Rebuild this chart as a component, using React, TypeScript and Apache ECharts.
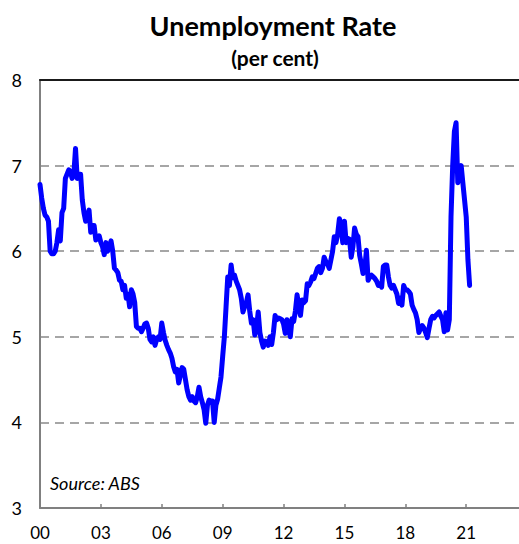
import React, { useEffect, useRef } from "react";
import * as echarts from "echarts";

// Monthly unemployment rate (per cent), Jan 2000 .. Mar 2021
const startYear = 2000;
const y2000 = [6.78, 6.62, 6.5, 6.42, 6.4, 6.35, 6.0, 5.97, 5.97, 6.0, 6.1, 6.25];
const y2001 = [6.12, 6.45, 6.5, 6.85, 6.9, 6.95, 6.93, 6.85, 6.9, 7.2, 6.85, 6.9];
const y2002 = [6.9, 6.6, 6.45, 6.35, 6.4, 6.48, 6.22, 6.3, 6.3, 6.13, 6.15, 6.18];
const y2003 = [6.1, 6.05, 5.96, 6.1, 6.0, 6.05, 6.12, 6.0, 5.8, 5.78, 5.75, 5.66];
const y2004 = [5.65, 5.55, 5.6, 5.45, 5.5, 5.35, 5.55, 5.5, 5.4, 5.12, 5.1, 5.1];
const y2005 = [5.06, 5.1, 5.15, 5.16, 5.1, 4.97, 4.94, 5.0, 4.9, 4.97, 5.0, 4.97];
const y2006 = [5.16, 5.05, 4.96, 4.9, 4.85, 4.81, 4.75, 4.65, 4.59, 4.62, 4.46, 4.55];
const y2007 = [4.64, 4.62, 4.5, 4.38, 4.3, 4.26, 4.3, 4.25, 4.23, 4.3, 4.41, 4.3];
const y2008 = [4.23, 4.15, 3.99, 4.2, 4.26, 4.25, 4.25, 4.0, 4.2, 4.27, 4.4, 4.53];
const y2009 = [4.77, 5.0, 5.35, 5.7, 5.6, 5.84, 5.69, 5.72, 5.65, 5.6, 5.55, 5.45];
const y2010 = [5.29, 5.35, 5.4, 5.49, 5.3, 5.16, 5.2, 5.02, 5.1, 5.29, 5.05, 4.95];
const y2011 = [4.88, 4.95, 4.94, 4.9, 5.0, 4.91, 5.05, 5.25, 5.2, 5.22, 5.21, 5.2];
const y2012 = [5.15, 5.04, 5.2, 5.1, 5.0, 5.21, 5.18, 5.3, 5.49, 5.35, 5.25, 5.43];
const y2013 = [5.4, 5.42, 5.62, 5.6, 5.64, 5.7, 5.68, 5.74, 5.8, 5.82, 5.75, 5.8];
const y2014 = [5.93, 5.88, 5.85, 5.8, 5.9, 6.0, 6.17, 6.1, 6.2, 6.38, 6.3, 6.1];
const y2015 = [6.35, 6.1, 6.15, 6.14, 5.93, 6.05, 6.27, 6.2, 6.17, 5.95, 5.85, 5.74];
const y2016 = [5.8, 6.01, 5.66, 5.7, 5.72, 5.7, 5.68, 5.65, 5.6, 5.62, 5.58, 5.82];
const y2017 = [5.84, 5.84, 5.7, 5.6, 5.57, 5.6, 5.55, 5.5, 5.39, 5.45, 5.37, 5.6];
const y2018 = [5.55, 5.55, 5.53, 5.5, 5.37, 5.32, 5.28, 5.2, 5.05, 5.1, 5.13, 5.1];
const y2019 = [5.05, 4.99, 5.1, 5.2, 5.24, 5.22, 5.25, 5.27, 5.29, 5.24, 5.2, 5.06];
const y2020 = [5.28, 5.08, 5.2, 6.4, 7.0, 7.4, 7.5, 6.8, 6.9, 7.0, 6.8, 6.6];
const y2021 = [6.4, 5.9, 5.6];

const yTicks = { min: 3, max: 8, interval: 1 };
const xTicks = { min: 2000, max: 2023.6, interval: 3 };

const rates: number[] = [
  ...y2000, ...y2001, ...y2002, ...y2003, ...y2004, ...y2005, ...y2006,
  ...y2007, ...y2008, ...y2009, ...y2010, ...y2011, ...y2012, ...y2013,
  ...y2014, ...y2015, ...y2016, ...y2017, ...y2018, ...y2019, ...y2020, ...y2021,
];

const FONT = "Lato, 'Noto Sans', sans-serif";

export default function App() {
  const ref = useRef<HTMLDivElement>(null);
  useEffect(() => {
    if (!ref.current) return;
    const chart = echarts.init(ref.current, null, { renderer: "svg" });
    const data = rates.map((v, i) => [startYear + i / 12, v]);
    chart.setOption({
      animation: false,
      backgroundColor: "#ffffff",
      grid: { left: 40, top: 80, right: 0, bottom: 36, containLabel: false },
      xAxis: [
        {
          type: "value",
          min: xTicks.min,
          max: xTicks.max,
          interval: xTicks.interval,
          axisLine: { show: true, lineStyle: { color: "#808080", width: 2 } },
          axisTick: { show: true, inside: true, length: 4, lineStyle: { color: "#808080", width: 1.5 } },
          axisLabel: {
            show: true,
            showMaxLabel: false,
            margin: 15,
            color: "#000",
            fontSize: 17,
            lineHeight: 18,
            fontFamily: FONT,
            formatter: (v: number) => {
              const r = Math.round(v);
              if (Math.abs(v - r) > 1e-6) return "";
              return String(r % 100).padStart(2, "0");
            },
          },
          splitLine: { show: false },
        },
        {
          type: "value",
          position: "top",
          min: xTicks.min,
          max: xTicks.max,
          interval: xTicks.interval,
          axisLine: { show: true, lineStyle: { color: "#1a1a1a", width: 2 } },
          axisTick: { show: false },
          axisLabel: { show: false },
          splitLine: { show: false },
        },
      ],
      yAxis: {
        type: "value",
        min: yTicks.min,
        max: yTicks.max,
        interval: yTicks.interval,
        axisLine: { show: true, lineStyle: { color: "#808080", width: 2 } },
        axisTick: { show: false },
        axisLabel: { margin: 18, color: "#000", fontSize: 18, fontFamily: FONT },
        splitLine: {
          show: true,
          showMinLine: false,
          showMaxLine: false,
          lineStyle: { color: "#A6A6A6", width: 2, type: [9, 6] },
        },
      },
      series: [
        {
          type: "line",
          xAxisIndex: 0,
          data,
          showSymbol: false,
          symbol: "none",
          lineStyle: { color: "#0000FF", width: 5, cap: "round", join: "round" },
          z: 5,
        },
      ],
      graphic: [
        {
          type: "text",
          x: 273,
          y: 25,
          style: {
            text: "Unemployment Rate",
            fontFamily: FONT,
            fontWeight: "bold",
            fontSize: 27,
            fill: "#000",
            textAlign: "center",
            textVerticalAlign: "middle",
          },
        },
        {
          type: "text",
          x: 275,
          y: 57,
          style: {
            text: "(per cent)",
            fontFamily: FONT,
            fontWeight: "bold",
            fontSize: 21,
            fill: "#000",
            textAlign: "center",
            textVerticalAlign: "middle",
          },
        },
        {
          type: "text",
          x: 50,
          y: 483,
          style: {
            text: "Source: ABS",
            fontFamily: FONT,
            fontStyle: "italic",
            fontSize: 18,
            fill: "#000",
            textAlign: "left",
            textVerticalAlign: "middle",
          },
        },
      ],
    });
    return () => chart.dispose();
  }, []);
  return (
    <div
      ref={ref}
      style={{ position: "fixed", left: 0, top: 0, width: 519, height: 544, background: "#fff" }}
    />
  );
}
